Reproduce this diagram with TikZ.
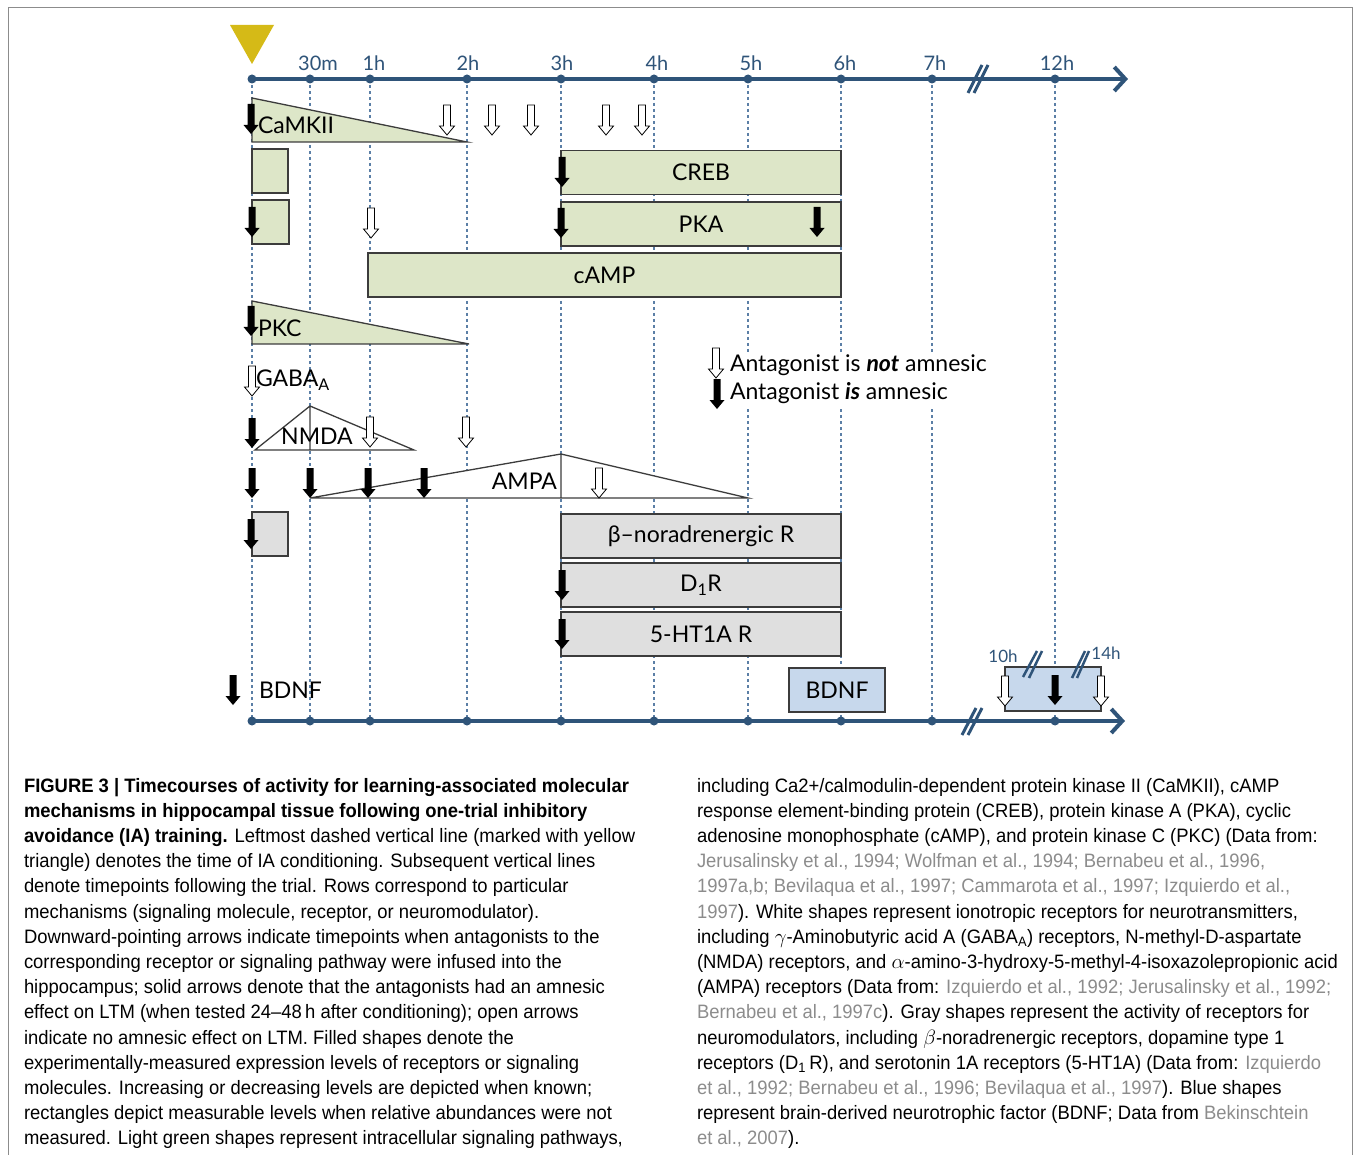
\documentclass[tikz,border=0pt]{standalone}
\usepackage{fontspec}
\setmainfont{Lato}
\newfontfamily\capfont[FakeStretch=0.95]{Liberation Sans}
\usetikzlibrary{arrows.meta}

\definecolor{axisblue}{HTML}{2F5479}
\definecolor{gridblue}{HTML}{5B7FA6}
\definecolor{sage}{HTML}{DDE6C8}
\definecolor{greybox}{HTML}{DFDFDF}
\definecolor{bluebox}{HTML}{C7D8EC}
\definecolor{boxline}{HTML}{3C3C3C}
\definecolor{trigold}{HTML}{D5BA17}
\definecolor{citegrey}{HTML}{8C8C8C}
\newcommand{\citeg}[1]{\textcolor{citegrey}{#1}}

\begin{document}
\begin{tikzpicture}[x=1pt, y=-1pt,
    every node/.style={font=\fontsize{23}{26}\selectfont, inner sep=0pt, outer sep=0pt},
    timeaxis/.style={draw=axisblue, line width=4pt,
        -{Straight Barb[length=11pt, width=24pt, line width=4pt]}},
    gridline/.style={draw=gridblue, line width=1.1pt, dash pattern=on 3pt off 3pt},
    breakmark/.style={draw=axisblue, line width=3pt},
    ticklab/.style={font=\fontsize{20}{23}\selectfont, text=axisblue},
    outline/.style={draw=boxline, line width=1.3pt},
    gbox/.style={outline, fill=sage, minimum height=44pt},
    grbox/.style={outline, fill=greybox, minimum height=44pt},
    bbox/.style={outline, fill=bluebox, minimum height=44pt},
    legtext/.style={anchor=west, fill=white, inner ysep=3pt},
    capt/.style={font=\capfont\fontsize{19.4}{25.2}\selectfont, align=left},
    amn/.pic={\fill[black] (-3.5,0) -- (3.5,0) -- (3.5,21) -- (7.5,21) -- (0,30)
        -- (-7.5,21) -- (-3.5,21) -- cycle;},
    noamn/.pic={\filldraw[fill=white, draw=black, line width=0.8pt] (-3.5,0) -- (3.5,0)
        -- (3.5,21) -- (7.5,21) -- (0,30) -- (-7.5,21) -- (-3.5,21) -- cycle;}
    ]
    \useasboundingbox (0,0) rectangle (1354,1155);
    \draw[black!45, line width=1pt] (8,8) rectangle (1352,1170);

    % time axes and grid
    \foreach \n/\x/\lab/\dx in {0/252//0, 1/310/30m/8, 2/370/1h/4, 3/467/2h/1,
        4/561/3h/1, 5/654/4h/3, 6/748/5h/3, 7/841/6h/4, 8/932/7h/3, 9/1055/12h/2} {
        \coordinate (t\n) at (\x,79);
        \coordinate (b\n) at (\x,721);
        \draw[gridline] (t\n) -- (b\n);
        \node[ticklab] (lab\n) at (\x+\dx,63) {\lab};
    }
    \fill[trigold] (230,25) -- (274,25) -- (252,64) -- cycle;
    \draw[timeaxis] (t0) -- (1128,79);
    \draw[timeaxis] (b0) -- (1125,721);
    \foreach \n in {0,...,9} {
        \fill[axisblue] (t\n) circle (4.5);
        \fill[axisblue] (b\n) circle (4.5);
    }
    \draw[breakmark] (968,93) -- (982,65) (974,93) -- (988,65);
    \draw[breakmark] (962,735) -- (976,708) (968,735) -- (982,708);

    % signaling pathways
    \draw[outline, fill=sage] (252,98) -- (467,142) -- (252,142) -- cycle;
    \node[anchor=west] (camk) at (258,125) {CaMKII};
    \node[gbox, minimum width=36pt] (camkbox) at (270,171) {};
    \node[gbox, minimum width=280pt] (creb) at (701,172.5) {CREB};
    \node[gbox, minimum width=37pt] (pkabox) at (270.5,222) {};
    \node[gbox, minimum width=280pt] (pka) at (701,224) {PKA};
    \node[gbox, minimum width=473pt] (camp) at (604.5,275) {cAMP};
    \draw[outline, fill=sage] (252,301) -- (469,344) -- (252,344) -- cycle;
    \node[anchor=west] (pkc) at (258,328) {PKC};

    % ionotropic receptors
    \node[anchor=west] (gaba) at (256,380) {GABA\textsubscript{A}};
    \draw[outline, fill=white] (255,450) -- (310,406) -- (414,450) -- cycle (310,406) -- (310,450);
    \node (nmda) at (317,436) {NMDA};
    \draw[outline, fill=white] (310,498) -- (561,454) -- (748,498) -- cycle (561,454) -- (561,498);
    \node[anchor=east] (ampa) at (557,481) {AMPA};

    % neuromodulators
    \node[grbox, minimum width=36pt] (betabox) at (270,534) {};
    \node[grbox, minimum width=280pt] (beta) at (701,536) {β–noradrenergic R};
    \node[grbox, minimum width=280pt] (dopa) at (701,585) {D\textsubscript{1}R};
    \node[grbox, minimum width=280pt] (sero) at (701,634) {5-HT1A R};

    % BDNF
    \node[anchor=west] (bdnf) at (259,690) {BDNF};
    \node[bbox, minimum width=96pt] (bdnfa) at (837,690) {BDNF};
    \node[bbox, minimum width=96pt] (bdnfb) at (1053,689) {};
    \draw[breakmark, line width=2.5pt] (1023,677) -- (1037,651) (1029,678) -- (1042,651);
    \draw[breakmark, line width=2.5pt] (1072,678) -- (1085,651) (1077,678) -- (1089,651);
    \node[ticklab, font=\fontsize{17}{20}\selectfont] (ten) at (1003,656) {10h};
    \node[ticklab, font=\fontsize{17}{20}\selectfont] (fourteen) at (1106,653) {14h};

    % legend
    \node[legtext] (notamn) at (730,365) {Antagonist is \textbf{\textit{not}} amnesic};
    \node[legtext] (isamn) at (730,393) {Antagonist \textbf{\textit{is}} amnesic};

    % antagonist arrows
    \foreach \x/\y in {251/104, 562/157, 252/207, 561/208, 817/207, 251/306, 252/418,
        252/468, 310/468, 368/468, 424/468, 251/519, 562/570, 562/619, 233/675, 1055/675, 717/379}
        \pic at (\x,\y) {amn};
    \foreach \x/\y in {447/105, 492/105, 531/105, 606/105, 642/105, 371/208, 252/366,
        370/417, 466/417, 599/468, 1005/676, 1101/676, 716/348}
        \pic at (\x,\y) {noamn};

    % caption
    \node[capt, anchor=north west] (capleft) at (24,778) {%
        \textbf{FIGURE 3 | Timecourses of activity for learning-associated molecular}\\
        \textbf{mechanisms in hippocampal tissue following one-trial inhibitory}\\
        \textbf{avoidance (IA) training.} Leftmost dashed vertical line (marked with yellow\\
        triangle) denotes the time of IA conditioning. Subsequent vertical lines\\
        denote timepoints following the trial. Rows correspond to particular\\
        mechanisms (signaling molecule, receptor, or neuromodulator).\\
        Downward-pointing arrows indicate timepoints when antagonists to the\\
        corresponding receptor or signaling pathway were infused into the\\
        hippocampus; solid arrows denote that the antagonists had an amnesic\\
        effect on LTM (when tested 24–48\,h after conditioning); open arrows\\
        indicate no amnesic effect on LTM. Filled shapes denote the\\
        experimentally-measured expression levels of receptors or signaling\\
        molecules. Increasing or decreasing levels are depicted when known;\\
        rectangles depict measurable levels when relative abundances were not\\
        measured. Light green shapes represent intracellular signaling pathways,};
    \node[capt, anchor=north west] (capright) at (697,778) {%
        including Ca2+/calmodulin-dependent protein kinase II (CaMKII), cAMP\\
        response element-binding protein (CREB), protein kinase A (PKA), cyclic\\
        adenosine monophosphate (cAMP), and protein kinase C (PKC) (Data from:\\
        \citeg{Jerusalinsky et al., 1994; Wolfman et al., 1994; Bernabeu et al., 1996,}\\
        \citeg{1997a,b; Bevilaqua et al., 1997; Cammarota et al., 1997; Izquierdo et al.,}\\
        \citeg{1997}). White shapes represent ionotropic receptors for neurotransmitters,\\
        including $\gamma$-Aminobutyric acid A (GABA\textsubscript{A}) receptors, N-methyl-D-aspartate\\
        (NMDA) receptors, and $\alpha$-amino-3-hydroxy-5-methyl-4-isoxazolepropionic acid\\
        (AMPA) receptors (Data from: \citeg{Izquierdo et al., 1992; Jerusalinsky et al., 1992;}\\
        \citeg{Bernabeu et al., 1997c}). Gray shapes represent the activity of receptors for\\
        neuromodulators, including $\beta$-noradrenergic receptors, dopamine type 1\\
        receptors (D\textsubscript{1}\,R), and serotonin 1A receptors (5-HT1A) (Data from: \citeg{Izquierdo}\\
        \citeg{et al., 1992; Bernabeu et al., 1996; Bevilaqua et al., 1997}). Blue shapes\\
        represent brain-derived neurotrophic factor (BDNF; Data from \citeg{Bekinschtein}\\
        \citeg{et al., 2007}).};
\end{tikzpicture}
\end{document}
